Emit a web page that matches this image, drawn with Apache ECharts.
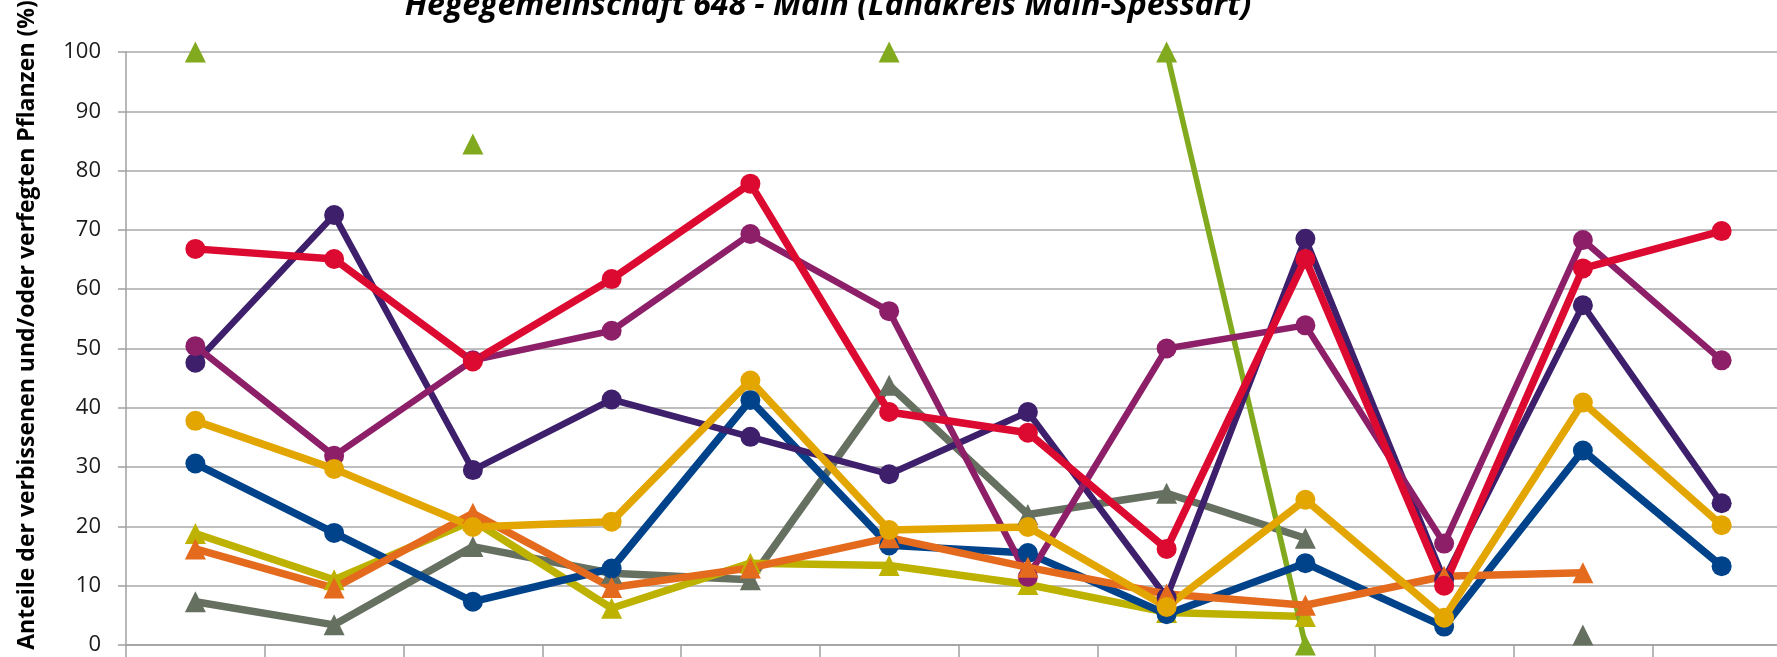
<!DOCTYPE html>
<html>
<head>
<meta charset="utf-8">
<script src="https://cdn.jsdelivr.net/npm/echarts@6/dist/echarts.min.js"></script>
<style>
html,body{margin:0;padding:0;background:#fff;}
#chart{width:1777px;height:657px;}
</style>
</head>
<body>
<div id="chart"></div>
<script>
// ---- data ----
const titleText = 'Hegegemeinschaft 648 - Main (Landkreis Main-Spessart)';
const yAxisTitle = 'Anteile der verbissenen und/oder verfegten Pflanzen (%)';
const categories = ['1','2','3','4','5','6','7','8','9','10','11','12'];
const yTicks = [0,10,20,30,40,50,60,70,80,90,100];

const seriesNames = ['Reihe 1','Reihe 2','Reihe 3','Reihe 4','Reihe 5','Reihe 6','Reihe 7','Reihe 8','Reihe 9'];
const grayTri      = [7.3, 3.4, 16.6, 12.1, 11.0, 43.8, 22.0, 25.6, 18.0, null, 1.7, null];
const oliveTri     = [18.8, 11.0, 21.0, 6.2, 13.8, 13.4, 10.2, 5.5, 4.8, null, null, null];
const greenTri     = [100, null, 84.5, null, null, 100, null, 100, 0, null, null, null];
const blueCirc     = [30.6, 18.9, 7.3, 12.9, 41.3, 16.8, 15.5, 5.2, 13.8, 3.1, 32.8, 13.3];
const purpleCirc   = [47.6, 72.5, 29.5, 41.4, 35.1, 28.8, 39.3, 8.0, 68.5, 11.0, 57.3, 23.9];
const magentaCirc  = [50.4, 31.9, 48.0, 53.0, 69.3, 56.3, 11.5, 50.0, 53.9, 17.1, 68.3, 48.0];
const orangeTri    = [16.2, 9.6, 22.2, 9.7, 13.0, 18.1, 13.1, 8.6, 6.7, 11.6, 12.2, null];
const goldCirc     = [37.8, 29.7, 19.9, 20.8, 44.6, 19.4, 19.9, 6.4, 24.5, 4.6, 40.9, 20.2];
const redCirc      = [66.8, 65.1, 47.8, 61.7, 77.8, 39.3, 35.8, 16.2, 65.1, 10.0, 63.5, 69.8];

const chart = echarts.init(document.getElementById('chart'), null, {renderer:'canvas'});

function mk(name, data, color, symbol, size, width){
  return {
    name, type:'line', data,
    symbol, symbolSize:size, showSymbol:true, showAllSymbol:true,
    connectNulls:false,
    lineStyle:{color, width},
    itemStyle:{color, borderWidth:0},
    emphasis:{disabled:true},
    animation:false
  };
}

chart.setOption({
  animation:false,
  backgroundColor:'#ffffff',
  grid:{left:126, width:1665, top:52, bottom:12, containLabel:false, outerBoundsMode:'none'},
  xAxis:{
    type:'category', data:categories, boundaryGap:true,
    axisLine:{show:true, lineStyle:{color:'#a0a0a0', width:1.5}},
    axisTick:{show:true, alignWithLabel:false, interval:0, length:12, lineStyle:{color:'#a0a0a0', width:1.5}},
    axisLabel:{show:false},
    splitLine:{show:false}
  },
  yAxis:{
    type:'value', min:yTicks[0], max:yTicks[yTicks.length-1], interval:10,
    axisLine:{show:true, lineStyle:{color:'#a0a0a0', width:1.5}},
    axisTick:{show:true, length:8, lineStyle:{color:'#a0a0a0', width:1.5}},
    axisLabel:{show:true, margin:25, color:'#1a1a1a', fontFamily:'"Open Sans"', fontSize:22},
    splitLine:{show:true, lineStyle:{color:'#a8a8a8', width:1.5}}
  },
  graphic:[
    {type:'text', x:828, y:5.5, silent:true,
     style:{text:titleText, fill:'#000', font:'italic bold 32px "Open Sans"', textAlign:'center', textVerticalAlign:'middle', align:'center', verticalAlign:'middle'}},
    {type:'text', x:27, y:325, rotation:Math.PI/2, silent:true,
     style:{text:yAxisTitle, fill:'#000', font:'bold 23px "Liberation Sans Narrow", "Open Sans"', textAlign:'center', textVerticalAlign:'middle', align:'center', verticalAlign:'middle'}}
  ],
  series:[
    mk(seriesNames[0], grayTri, '#667060', 'triangle', 21, 7.5),
    mk(seriesNames[1], oliveTri, '#bdb200', 'triangle', 21, 7.5),
    mk(seriesNames[2], greenTri, '#82aa1e', 'triangle', 21, 5.5),
    mk(seriesNames[3], blueCirc, '#00438a', 'circle', 20, 7.5),
    mk(seriesNames[4], purpleCirc, '#3d1f6b', 'circle', 20, 6.5),
    mk(seriesNames[5], magentaCirc, '#8c1f68', 'circle', 20, 6.5),
    mk(seriesNames[6], orangeTri, '#e46a1e', 'triangle', 21, 7.5),
    mk(seriesNames[7], goldCirc, '#e3a500', 'circle', 20, 7.5),
    mk(seriesNames[8], redCirc, '#dc0a30', 'circle', 20, 7.5)
  ]
});
</script>
</body>
</html>
